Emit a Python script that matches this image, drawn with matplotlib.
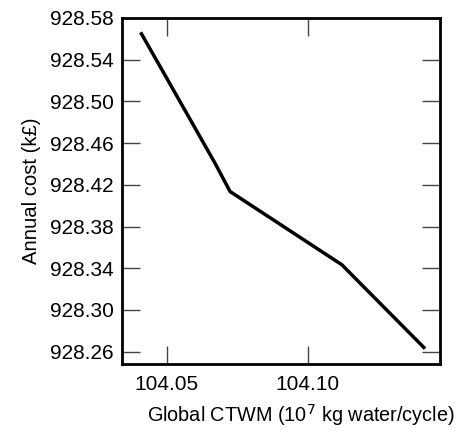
import matplotlib
matplotlib.use('Agg')
import matplotlib.pyplot as plt

# Points
ctwm = [104.0408, 104.0671, 104.0725, 104.1121, 104.1416]
cost = [928.5663, 928.4411, 928.4136, 928.3434, 928.2629]

x_ticks = [104.05, 104.10]
x_tick_labels = ['104.05', '104.10']
y_ticks = [928.26, 928.30, 928.34, 928.38, 928.42, 928.46, 928.50, 928.54, 928.58]

plt.rcParams['font.family'] = ['Liberation Sans', 'DejaVu Sans']

fig = plt.figure(figsize=(4.58, 4.34), dpi=100)
ax = fig.add_axes([122 / 458, 1 - 364 / 434, 318 / 458, 346 / 434])

ax.plot(ctwm, cost, color='black', linewidth=2.5, solid_capstyle='butt')

ax.set_xlim(104.0342, 104.1469)
ax.set_ylim(928.2482, 928.58)
ax.set_xticks(x_ticks)
ax.set_xticklabels(x_tick_labels)
ax.set_yticks(y_ticks)
ax.set_yticklabels(['%.2f' % v for v in y_ticks])

ax.tick_params(direction='in', length=13, width=1, color='#444444',
               top=True, right=True, labelsize=15, pad=6)
ax.tick_params(axis='x', pad=8)
for s in ax.spines.values():
    s.set_linewidth(2)

ax.set_xlabel('Global CTWM (10$^7$ kg water/cycle)', fontsize=14.3)
ax.xaxis.set_label_coords(0.561, -0.11)
ax.set_ylabel('Annual cost (k£)', fontsize=14.6, labelpad=6)

fig.savefig('out.png', dpi=100)
